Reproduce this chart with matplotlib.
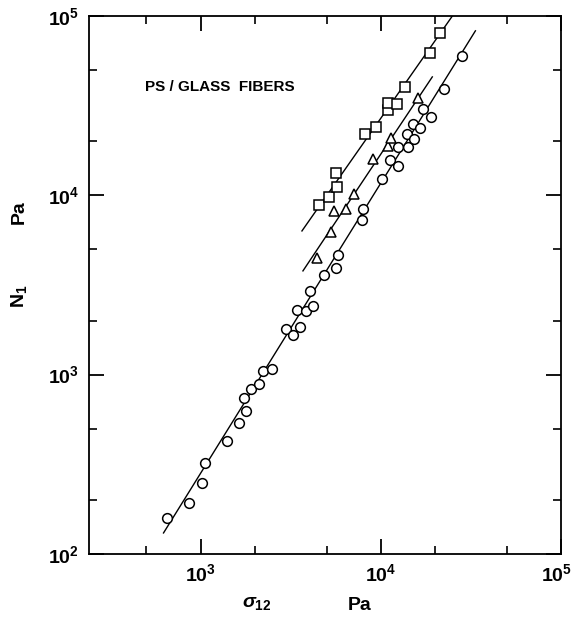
import matplotlib
matplotlib.use('Agg')
import numpy as np
import matplotlib.pyplot as plt
import matplotlib.transforms as mtransforms
from matplotlib.ticker import LogLocator, NullFormatter, FuncFormatter

plt.rcParams['font.family'] = ['Liberation Sans', 'DejaVu Sans']
plt.rcParams['font.weight'] = 'bold'
plt.rcParams['mathtext.fontset'] = 'custom'
plt.rcParams['mathtext.rm'] = 'Liberation Sans:bold'
plt.rcParams['mathtext.it'] = 'Liberation Sans:italic:bold'
plt.rcParams['mathtext.bf'] = 'Liberation Sans:bold'
plt.rcParams['mathtext.default'] = 'regular'

# ---- data ----
circle_x = [647, 858, 1013, 1052, 1395, 1627, 1780, 1735, 1897, 2102, 2213, 2484,
            2972, 3251, 3556, 3421, 3839, 4200, 4043, 4836, 5640, 5786, 7870, 7971,
            10170, 11270, 12490, 12490, 14190, 14010, 15320, 15120, 16550, 17200,
            19050, 22510, 28340]
circle_y = [159, 192, 249, 322, 427, 538, 627, 741, 832, 888, 1048, 1076,
            1798, 1665, 1845, 2296, 2266, 2416, 2930, 3597, 3936, 4652, 7291, 8397,
            12350, 15760, 14590, 18620, 18620, 22000, 20640, 25010, 23770, 30330,
            27360, 39220, 59920]

triangle_x = [4421, 5290, 5497, 6412, 7103, 9060, 10980, 11410, 16130]
triangle_y = [4476, 6250, 8185, 8397, 10180, 15960, 18860, 20900, 34920]

square_x = [4536, 5157, 5712, 5640, 8177, 9414, 10980, 10980, 12330, 13650, 18810, 21380]
square_y = [8842, 9796, 11140, 13335, 22000, 24070, 29930, 32750, 32350, 40230, 62230, 80490]

# fitted lines (end points)
circle_line_x = [622, 33480]
circle_line_y = [131, 82600]
triangle_line_x = [3695, 19300]
triangle_line_y = [3788, 45720]
square_line_x = [3648, 27000]
square_line_y = [6327, 112000]

x_limits = [240, 1e5]
y_limits = [1e2, 1e5]
label_text = 'PS / GLASS  FIBERS'

# ---- figure ----
fig = plt.figure(figsize=(5.75, 6.18), dpi=100)
ax = fig.add_axes([0.1548, 0.1036, 0.8209, 0.8706])
ax.set_xscale('log')
ax.set_yscale('log')
ax.set_xlim(x_limits)
ax.set_ylim(y_limits)

lw = 1.0
ax.plot(circle_line_x, circle_line_y, color='black', lw=lw)
ax.plot(triangle_line_x, triangle_line_y, color='black', lw=lw)
ax.plot(square_line_x, square_line_y, color='black', lw=lw)

ms = 7.0
mew = 1.1
ax.plot(circle_x, circle_y, 'o', ms=ms, mfc='white', mec='black', mew=mew, ls='none')
ax.plot(triangle_x, triangle_y, '^', ms=ms, mfc='white', mec='black', mew=mew, ls='none')
ax.plot(square_x, square_y, 's', ms=ms * 0.95, mfc='white', mec='black', mew=mew, ls='none')

for s in ax.spines.values():
    s.set_linewidth(1.3)

ax.xaxis.set_major_locator(LogLocator(base=10, numticks=10))
ax.yaxis.set_major_locator(LogLocator(base=10, numticks=10))
ax.xaxis.set_minor_locator(LogLocator(base=10, subs=(2, 5), numticks=10))
ax.yaxis.set_minor_locator(LogLocator(base=10, subs=(2, 5), numticks=10))
fmt = FuncFormatter(lambda v, _: r'$10^{%d}$' % int(round(np.log10(v))))
ax.xaxis.set_major_formatter(fmt)
ax.yaxis.set_major_formatter(fmt)
ax.xaxis.set_minor_formatter(NullFormatter())
ax.yaxis.set_minor_formatter(NullFormatter())

ax.tick_params(which='both', direction='in', top=True, right=True, color='black')
ax.tick_params(which='major', length=11, width=1.3, labelsize=14, pad=7)
ax.tick_params(which='minor', length=6, width=1.2)

fig.text(145 / 575, 1 - 87 / 618, label_text, fontsize=11, fontweight='bold',
         va='center', ha='left')

fig.text(257 / 575, 1 - 603 / 618, r'$\mathit{\sigma}_{12}$', fontsize=14,
         va='center', ha='center')
fig.text(360 / 575, 1 - 605 / 618, 'Pa', fontsize=14, fontweight='bold',
         va='center', ha='center')
fig.text(19 / 575, 1 - 296 / 618, r'N$_1$', fontsize=14, fontweight='bold',
         va='center', ha='center', rotation=90)
fig.text(19 / 575, 1 - 212 / 618, 'Pa', fontsize=14, fontweight='bold',
         va='center', ha='center', rotation=90)

# nudge the rightmost x tick label so it stays inside the figure
fig.canvas.draw()
shift = mtransforms.ScaledTranslation(-4 / 100, 0, fig.dpi_scale_trans)
for tick in ax.xaxis.get_major_ticks():
    if np.isclose(tick.get_loc(), x_limits[1]):
        tick.label1.set_transform(tick.label1.get_transform() + shift)

fig.savefig('out.png', dpi=100)
